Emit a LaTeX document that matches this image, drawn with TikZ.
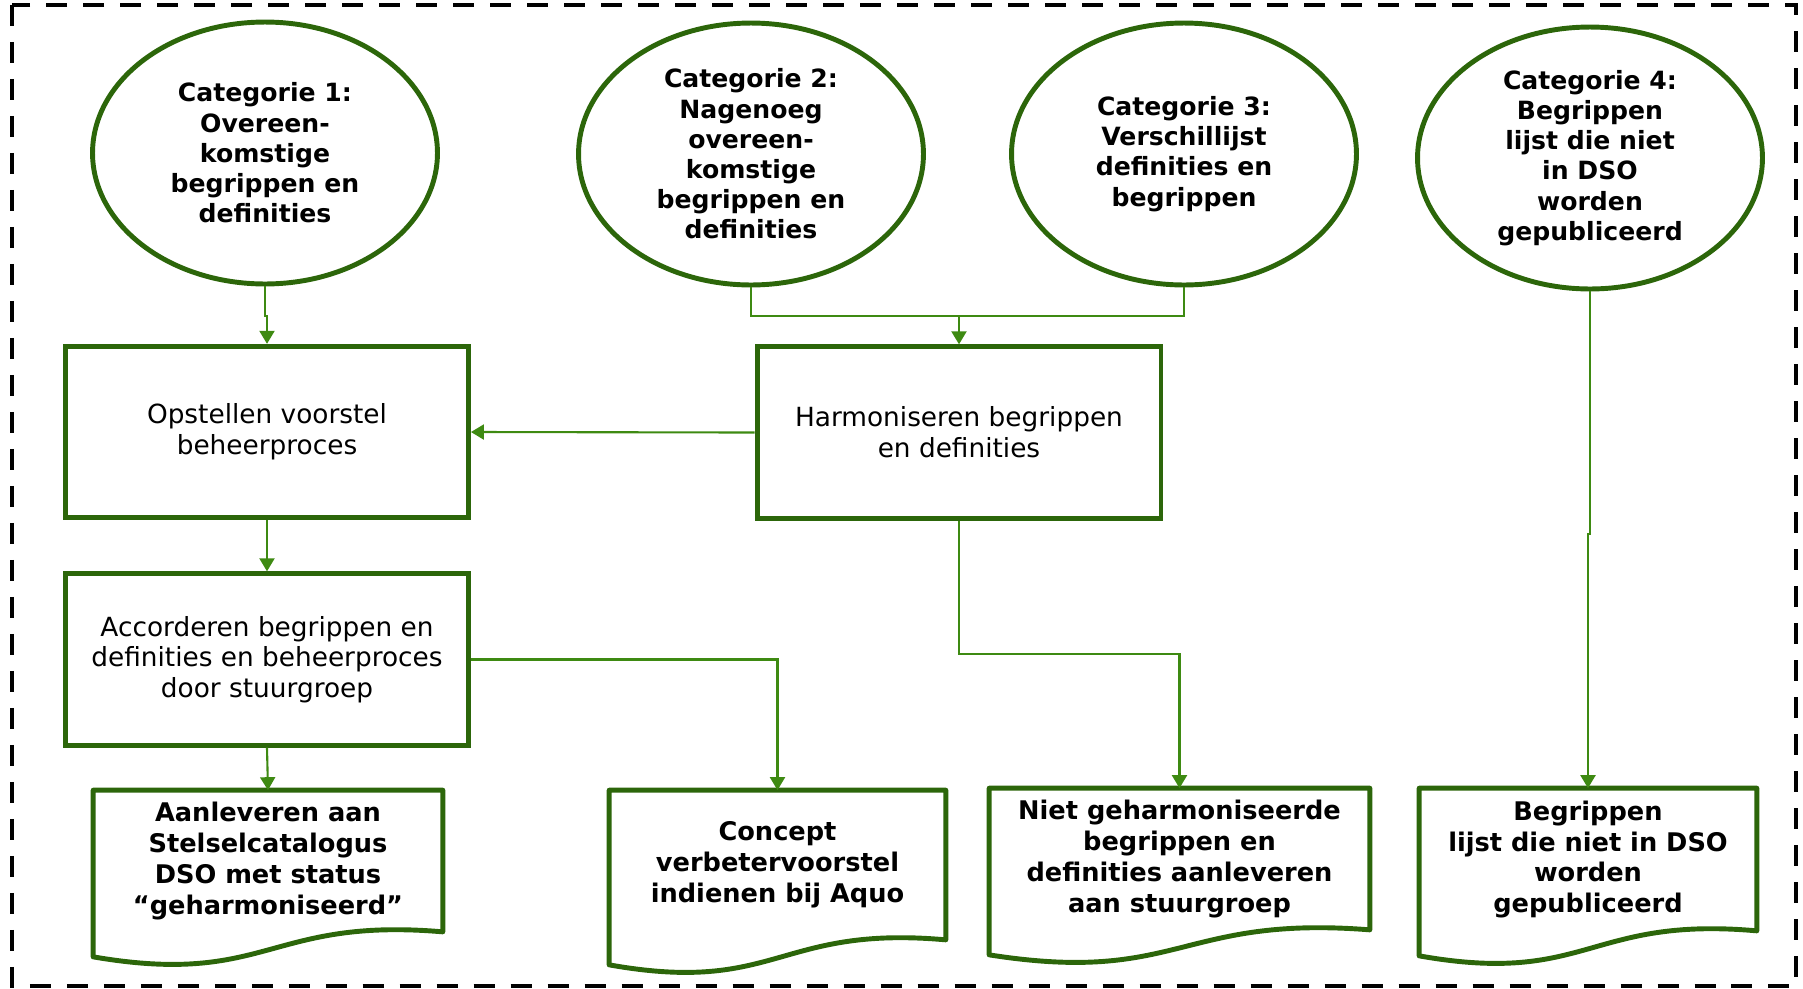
\documentclass[tikz,border=0pt]{standalone}
\usepackage{fontspec}
\setmainfont{DejaVu Sans}
\usetikzlibrary{shapes.geometric,arrows.meta,calc}
\definecolor{boxgreen}{RGB}{44,102,10}
\definecolor{linegreen}{RGB}{62,138,18}
\tikzset{
    cat/.style={ellipse, draw=boxgreen, line width=2.8pt, minimum width=6.9cm, minimum height=5.24cm,
        inner sep=0pt, align=center, font=\bfseries\fontsize{14.3}{17.2}\selectfont},
    proc/.style={rectangle, draw=boxgreen, line width=2.8pt, minimum width=8.06cm, minimum height=3.43cm,
        align=center, font=\fontsize{15}{17.5}\selectfont},
    doc/.style={rectangle, inner sep=0pt, align=center, font=\bfseries\fontsize{14.6}{17.6}\selectfont},
    docline/.style={draw=boxgreen, line width=2.8pt, line join=round},
    link/.style={draw=linegreen, line width=1.2pt},
    flow/.style={link, -{Triangle[length=0.26cm,width=0.3cm]}},
}
\begin{document}
\begin{tikzpicture}[x=0.02cm, y=-0.02cm]

        \useasboundingbox (0,0) rectangle (1803,988);
        \draw[black, line width=2.8pt, dash pattern=on 0.42cm off 0.32cm] (12,5) rectangle (1796,986);

        \node[cat] (cat1) at (265,153) {Categorie 1:\\Overeen-\\komstige\\begrippen en\\definities};
        \node[cat] (cat2) at (751,154) {Categorie 2:\\Nagenoeg\\overeen-\\komstige\\begrippen en\\definities};
        \node[cat] (cat3) at (1184,154) {Categorie 3:\\Verschillijst\\definities en\\begrippen};
        \node[cat] (cat4) at (1590,158) {Categorie 4:\\Begrippen\\lijst die niet\\in DSO\\worden\\gepubliceerd};

        \node[proc] (opst) at (267,432) {Opstellen voorstel\\beheerproces};
        \node[proc, minimum width=8.08cm] (harm) at (959,432.5) {Harmoniseren begrippen\\en definities};
        \node[proc] (acc) at (267,659.5) {Accorderen begrippen en\\definities en beheerproces\\door stuurgroep};

        \node[doc, minimum width=6.98cm, minimum height=2.82cm] (doc1) at (268,861) {Aanleveren aan\\Stelselcatalogus\\DSO met status\\“geharmoniseerd”};
        \node[doc, minimum width=6.72cm, minimum height=2.98cm] (doc2) at (777.5,865) {Concept\\verbetervoorstel\\indienen bij Aquo};
        \node[doc, minimum width=7.6cm, minimum height=2.82cm] (doc3) at (1179.5,859) {Niet geharmoniseerde\\begrippen en\\definities aanleveren\\aan stuurgroep};
        \node[doc, minimum width=6.74cm, minimum height=2.84cm] (doc4) at (1588,859.5) {Begrippen\\lijst die niet in DSO\\worden\\gepubliceerd};

        \foreach \d in {doc1,doc2,doc3,doc4}
            \draw[docline] (\d.north west) -- (\d.north east) -- (\d.south east)
                .. controls ($(\d.south)+(0,-15)$) and ($(\d.south)+(0,55)$) .. ($(\d.south west)+(0,25)$) -- cycle;

        \coordinate (join) at (959,316);
        \draw[flow] (cat1.south) -- ++(0,30) -| (opst.north);
        \draw[link] (cat2.south) |- (join) -| (cat3.south);
        \draw[flow] (join) -- (harm.north);
        \draw[flow] (harm.west) -- (opst.east);
        \draw[flow] (opst.south) -- (acc.north);
        \draw[flow] (acc.south) -- (doc1.north);
        \draw[flow] (acc.east) -| (doc2.north);
        \draw[flow] (harm.south) -- ++(0,133) -| (doc3.north);
        \draw[flow] (cat4.south) -- ++(0,243) -| (doc4.north);
    \end{tikzpicture}
\end{document}
